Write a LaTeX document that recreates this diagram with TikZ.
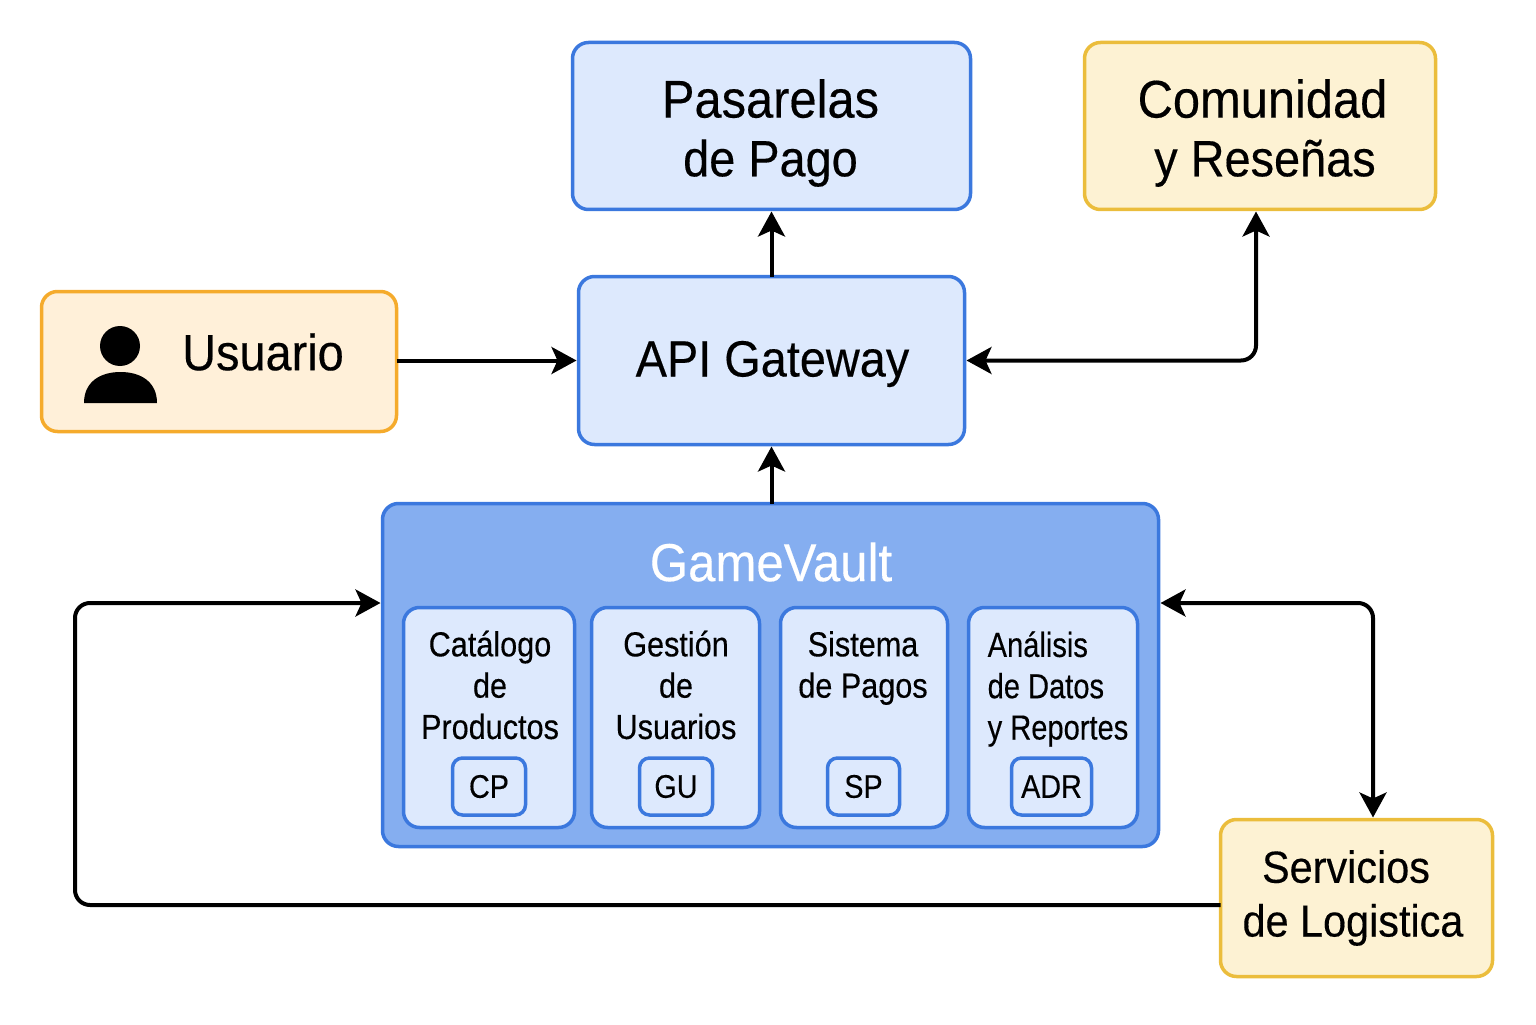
\documentclass[tikz,border=0pt]{standalone}
\usepackage{fontspec}
\setmainfont[FakeStretch=0.92,FakeBold=0.3]{Liberation Sans}
\newfontfamily\smallfont[FakeStretch=0.88,FakeBold=0.3]{Liberation Sans}
\usepackage{tikz}
\usetikzlibrary{arrows.meta}

\definecolor{blueline}{HTML}{3B78DE}
\definecolor{bluefill}{HTML}{DDE9FD}
\definecolor{bluedeep}{HTML}{85AEF0}
\definecolor{orangeline}{HTML}{F5AB2C}
\definecolor{orangefill}{HTML}{FFF0D9}
\definecolor{yellowline}{HTML}{EBBD3C}
\definecolor{yellowfill}{HTML}{FDF2D3}

\begin{document}
\begin{tikzpicture}[
							box/.style={rectangle, rounded corners=1.6mm, line width=0.035cm, inner sep=0pt, outer sep=0pt, align=center},
							blue box/.style={box, draw=blueline, fill=bluefill},
							orange box/.style={box, draw=orangeline, fill=orangefill},
							yellow box/.style={box, draw=yellowline, fill=yellowfill},
							big text/.style={inner sep=0pt, align=center, font=\fontsize{14.5}{16.7}\selectfont},
							small text/.style={inner sep=0pt, font=\smallfont\fontsize{9.9}{11.75}\selectfont},
							tag/.style={blue box, rounded corners=1mm, minimum height=0.57cm, font=\smallfont\fontsize{9.3}{11}\selectfont},
							link/.style={line width=0.04cm, rounded corners=1.5mm, shorten >=0.02cm, -{Stealth[length=0.25cm, width=0.27cm, inset=0.06cm]}},
							both link/.style={link, shorten <=0.02cm, {Stealth[length=0.25cm, width=0.27cm, inset=0.06cm]}-{Stealth[length=0.25cm, width=0.27cm, inset=0.06cm]}}
						]
						\useasboundingbox (0.00, 0.00) rectangle (15.36, 10.24);

						\node[blue box, minimum width=3.98cm, minimum height=1.67cm] (pasarelas) at (7.715, 8.98) {};
						\node[big text] (pasarelasText) at (7.705, 8.91) {{\fontsize{15.1}{16.7}\selectfont Pasarelas}\\de Pago};
						\node[yellow box, minimum width=3.51cm, minimum height=1.67cm] (comunidad) at (12.60, 8.98) {};
						\node[big text] (comunidadText) at (12.65, 8.91) {{\fontsize{15.1}{16.7}\selectfont Comunidad}\hspace*{0.05cm}\\y Reseñas};
						\node[orange box, minimum width=3.55cm, minimum height=1.40cm] (usuario) at (2.19, 6.625) {};
						\node[big text] (usuarioText) at (2.63, 6.72) {Usuario};
						\node[blue box, minimum width=3.86cm, minimum height=1.68cm] (api) at (7.715, 6.635) {};
						\node[big text] (apiText) at (7.725, 6.60) {API Gateway};

						\fill (1.20, 6.78) circle (0.20);
						\fill (0.84, 6.21) .. controls (0.84, 6.42) and (1.00, 6.52) .. (1.205, 6.52) .. controls (1.41, 6.52) and (1.57, 6.42) .. (1.57, 6.21) -- cycle;

						\node[blue box, fill=bluedeep, minimum width=7.76cm, minimum height=3.43cm] (gamevault) at (7.705, 3.49) {};
						\node[big text, text=white, font=\fontsize{15.2}{18}\selectfont] (gamevaultText) at (7.71, 4.62) {GameVault};

						\node[blue box, minimum width=1.71cm, minimum height=2.20cm] (catalogo) at (4.89, 3.065) {};
						\node[blue box, minimum width=1.68cm, minimum height=2.20cm] (gestion) at (6.755, 3.065) {};
						\node[blue box, minimum width=1.67cm, minimum height=2.20cm] (sistema) at (8.64, 3.065) {};
						\node[blue box, minimum width=1.69cm, minimum height=2.20cm] (analisis) at (10.53, 3.065) {};

						\node[small text, align=center] (catalogoText) at (4.90, 3.39) {Catálogo\\de\\Productos};
						\node[small text, align=center] (gestionText) at (6.76, 3.39) {Gestión\\de\\Usuarios};
						\node[small text, align=center] (sistemaText) at (8.63, 3.56) {Sistema\\de Pagos};
						\node[small text, align=left, xscale=0.95, transform shape] (analisisText) at (10.58, 3.35) {Análisis\\de Datos\\y Reportes};

						\node[tag, minimum width=0.73cm] (tagCP) at (4.89, 2.375) {CP};
						\node[tag, minimum width=0.73cm] (tagGU) at (6.76, 2.375) {GU};
						\node[tag, minimum width=0.72cm] (tagSP) at (8.635, 2.375) {SP};
						\node[tag, minimum width=0.80cm] (tagADR) at (10.515, 2.375) {ADR};

						\node[yellow box, minimum width=2.72cm, minimum height=1.57cm] (servicios) at (13.565, 1.26) {};
						\node[big text, font=\fontsize{12.8}{15.3}\selectfont] (serviciosText) at (13.53, 1.26) {Servicios\hspace*{0.14cm}\\de Logistica};

						\draw[link] (api.north) to (pasarelas.south);
						\draw[link] (usuario.east |- api.west) to (api.west);
						\draw[link] (gamevault.north -| api.south) to (api.south);
						\draw[both link] (api.east) -| ([xshift=-0.04cm]comunidad.south);
						\draw[both link] ([yshift=0.72cm]gamevault.east) -| ([xshift=0.165cm]servicios.north);
						\draw[link] ([yshift=-0.07cm]servicios.west) -| (0.75, 4.21) -- ([yshift=0.72cm]gamevault.west);
					\end{tikzpicture}
\end{document}
